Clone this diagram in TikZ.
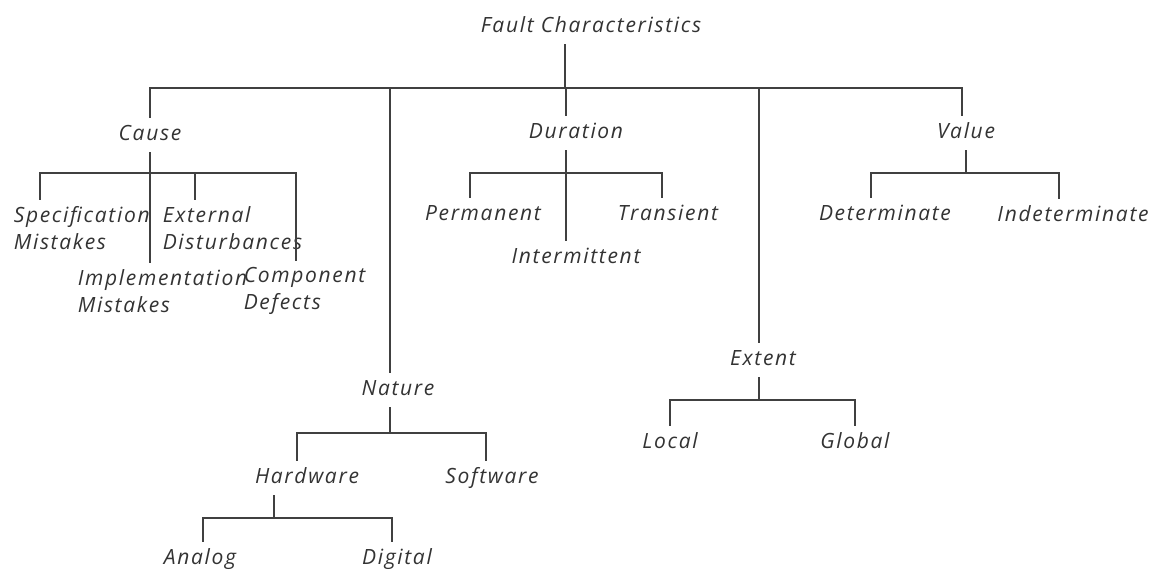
\documentclass[tikz,border=0pt]{standalone}
\usepackage{fontspec}
\setmainfont{Open Sans}[LetterSpace=8]
\begin{document}
\begin{tikzpicture}[x=0.5pt,y=-0.5pt,line width=0.8pt,black!75,
  lbl/.style={font=\itshape\fontsize{10.5}{13.5}\selectfont,text=black!80,inner sep=3pt,text height=8pt,text depth=2.5pt},
  lbltwo/.style={font=\itshape\fontsize{10.5}{13.5}\selectfont,text=black!80,inner sep=3pt,align=left,anchor=west}]
\useasboundingbox (0,0) rectangle (1155,571);
\node[lbl] (fc) at (591,27) {Fault Characteristics};
\node[lbl] (cause) at (150,135) {Cause};
\node[lbl] (duration) at (576,133) {Duration};
\node[lbl] (value) at (966,133) {Value};
\node[lbl] (nature) at (398,390) {Nature};
\node[lbl] (extent) at (763,360) {Extent};
\node[lbltwo] (spec) at (7,228) {Specification\\Mistakes};
\node[lbltwo] (ext) at (156,228) {External\\Disturbances};
\node[lbltwo] (impl) at (71,291) {Implementation\\Mistakes};
\node[lbltwo] (comp) at (237,291) {Component\\Defects};
\node[lbl] (perm) at (483,215) {Permanent};
\node[lbl] (trans) at (668,215) {Transient};
\node[lbl] (inter) at (576,258) {Intermittent};
\node[lbl] (det) at (885,215) {Determinate};
\node[lbl] (indet) at (1073,216) {Indeterminate};
\node[lbl] (hard) at (307,478) {Hardware};
\node[lbl] (soft) at (492,478) {Software};
\node[lbl] (analog) at (200,559) {Analog};
\node[lbl] (digital) at (397,559) {Digital};
\node[lbl] (local) at (670,443) {Local};
\node[lbl] (global) at (855,443) {Global};
\coordinate (top) at (0,88);
\coordinate (sub) at (0,173);
\coordinate (nb) at (0,433);
\coordinate (hb) at (0,518);
\coordinate (eb) at (0,400);
\draw ([xshift=-13pt]fc.south) -- ([xshift=-13pt]fc.south |- top);
\draw (cause.north) |- ([xshift=-2pt]value.north |- top) -- ([xshift=-2pt]value.north);
\draw ([xshift=-4pt]nature.north) -- ([xshift=-4pt]nature.north |- top);
\draw ([xshift=-5pt]duration.north) -- ([xshift=-5pt]duration.north |- top);
\draw ([xshift=-2pt]extent.north) -- ([xshift=-2pt]extent.north |- top);
\draw (cause.south) -- (cause.south |- impl.north);
\draw ([xshift=16.5pt]spec.north west) |- ([xshift=29.5pt]comp.north west |- sub) -- ([xshift=29.5pt]comp.north west);
\draw ([xshift=19.5pt]ext.north west) -- ([xshift=19.5pt]ext.north west |- sub);
\draw ([xshift=-5pt]duration.south) -- ([xshift=-5pt]duration.south |- inter.north);
\draw ([xshift=-6.5pt]perm.north) |- ([xshift=-3pt]trans.north |- sub) -- ([xshift=-3pt]trans.north);
\draw (value.south) -- (value.south |- sub);
\draw ([xshift=-7pt]det.north) |- ([xshift=-7pt]indet.north |- sub) -- ([xshift=-7pt]indet.north);
\draw ([xshift=-4pt]nature.south) -- ([xshift=-4pt]nature.south |- nb);
\draw ([xshift=-5pt]hard.north) |- ([xshift=-3pt]soft.north |- nb) -- ([xshift=-3pt]soft.north);
\draw ([xshift=-16.5pt]hard.south) -- ([xshift=-16.5pt]hard.south |- hb);
\draw ([xshift=1.5pt]analog.north) |- ([xshift=-2.5pt]digital.north |- hb) -- ([xshift=-2.5pt]digital.north);
\draw ([xshift=-2pt]extent.south) -- ([xshift=-2pt]extent.south |- eb);
\draw (local.north) |- (global.north |- eb) -- (global.north);
\end{tikzpicture}
\end{document}
